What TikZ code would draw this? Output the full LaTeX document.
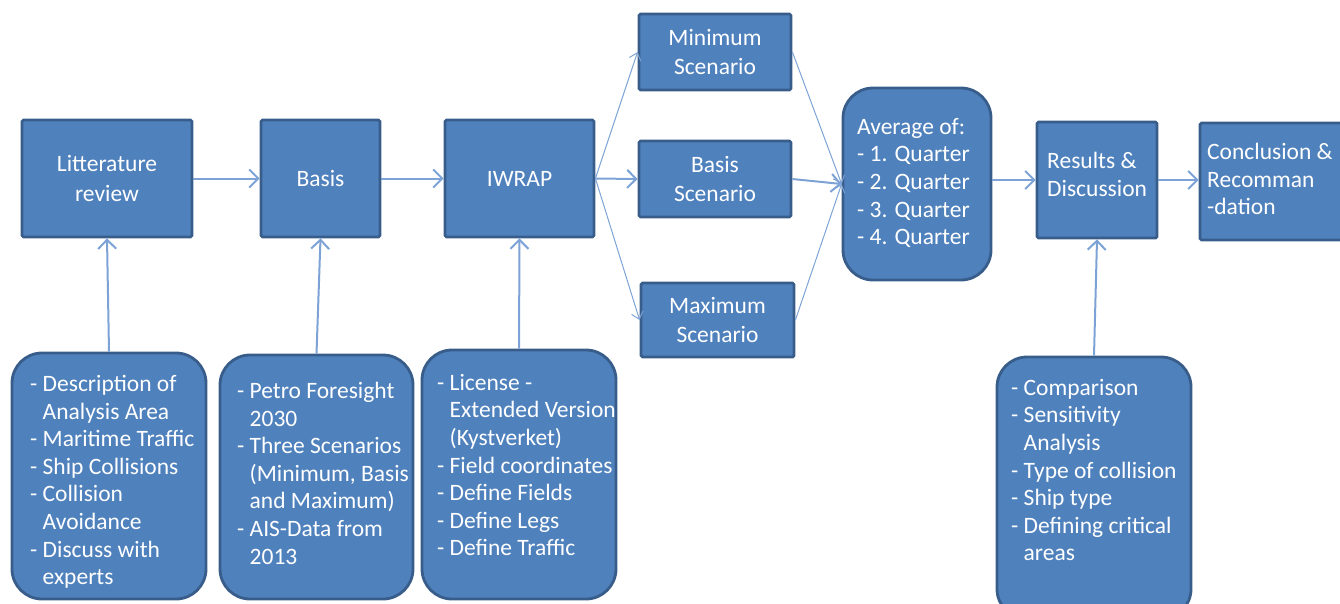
\documentclass[tikz,border=0pt]{standalone}
\usepackage{fontspec}
\setmainfont{Carlito}
\usetikzlibrary{arrows.meta}
\definecolor{boxfill}{RGB}{79,129,189}
\definecolor{boxline}{RGB}{56,93,138}
\definecolor{arrowc}{RGB}{125,163,214}
\begin{document}
\begin{tikzpicture}[x=1pt,y=-1pt,
  box/.style={draw=boxline, fill=boxfill, line width=2.8pt, inner sep=0pt,
    text=white, font=\fontsize{23.5}{29.5}\selectfont, align=center},
  sq/.style={box, rounded corners=1.5pt},
  rbox/.style={box, rounded corners=30pt},
  txt/.style={text=white, font=\fontsize{23.5}{27.6}\selectfont, inner sep=0pt,
    align=left, anchor=north west},
  arr/.style={draw=arrowc, line width=2pt, -{Straight Barb[length=9pt,width=18pt]}},
  thinarr/.style={draw=arrowc, line width=1pt, -{Straight Barb[length=7pt,width=12pt]}}]
\useasboundingbox (0,0) rectangle (1340,603);
\clip (0,0) rectangle (1340,603);
% top row
\node[sq, minimum width=170pt, minimum height=117pt] (lit) at (107,178.5) {Litterature\\review};
\node[sq, minimum width=119pt, minimum height=117pt] (basis) at (320.5,178.5) {Basis};
\node[sq, minimum width=149pt, minimum height=117pt] (iwrap) at (519.5,178.5) {IWRAP};
\node[sq, minimum width=152pt, minimum height=76pt] (minS) at (715,52) {Minimum\\Scenario};
\node[sq, minimum width=152pt, minimum height=76pt] (basS) at (715,179) {Basis\\Scenario};
\node[sq, minimum width=153pt, minimum height=74pt] (maxS) at (717.5,320) {Maximum\\Scenario};
\node[rbox, minimum width=148pt, minimum height=192pt] (avg) at (917,184) {};
\node[txt] (avgT) at (857,118) {Average of:\\- 1. Quarter\\- 2. Quarter\\- 3. Quarter\\- 4. Quarter};
\node[sq, minimum width=120pt, minimum height=116pt] (res) at (1097,180) {};
\node[txt] (resT) at (1047,152) {Results \&\\Discussion};
\node[sq, minimum width=150pt, minimum height=117pt] (con) at (1275,181.5) {};
\node[txt] (conT) at (1207,143) {Conclusion \&\\Recomman\\-dation};
% bottom row
\node[rbox, minimum width=194pt, minimum height=246pt] (litB) at (109,476) {};
\node[txt] (litBT) at (30,375) {- Description of\\\phantom{- }Analysis Area\\- Maritime Traffic\\- Ship Collisions\\- Collision\\\phantom{- }Avoidance\\- Discuss with\\\phantom{- }experts};
\node[rbox, minimum width=193pt, minimum height=244pt] (basB) at (316.5,477) {};
\node[txt] (basBT) at (237,382) {- Petro Foresight\\\phantom{- }2030\\- Three Scenarios\\\phantom{- }(Minimum, Basis\\\phantom{- }and Maximum)\\- AIS-Data from\\\phantom{- }2013};
\node[rbox, minimum width=194pt, minimum height=249pt] (iwB) at (519,474.5) {};
\node[txt] (iwBT) at (437,374) {- License -\\\phantom{- }Extended Version\\\phantom{- }(Kystverket)\\- Field coordinates\\- Define Fields\\- Define Legs\\- Define Traffic};
\node[rbox, minimum width=194pt, minimum height=262pt] (resB) at (1094,488) {};
\node[txt] (resBT) at (1011,379) {- Comparison\\- Sensitivity\\\phantom{- }Analysis\\- Type of collision\\- Ship type\\- Defining critical\\\phantom{- }areas};
% connectors
\draw[arr] (lit) -- (basis);
\draw[arr] (basis) -- (iwrap);
\draw[thinarr] (iwrap.east) -- (minS.west);
\draw[arr] (iwrap.east) -- (basS.west);
\draw[thinarr] (iwrap.east) -- (maxS.west);
\draw[thinarr] (minS.east) -- (avg.west);
\draw[arr] (basS.east) -- (avg.west);
\draw[thinarr] (maxS.east) -- (avg.west);
\draw[arr] (res.west -| avg.east) -- (res.west);
\draw[arr] (res.east) -- (con.west |- res.east);
\draw[arr] (litB.north) -- (lit.south);
\draw[arr] (basB.north) -- (basis.south);
\draw[arr] (iwB.north) -- (iwrap.south);
\draw[arr] (resB.north) -- (res.south);
\end{tikzpicture}
\end{document}
